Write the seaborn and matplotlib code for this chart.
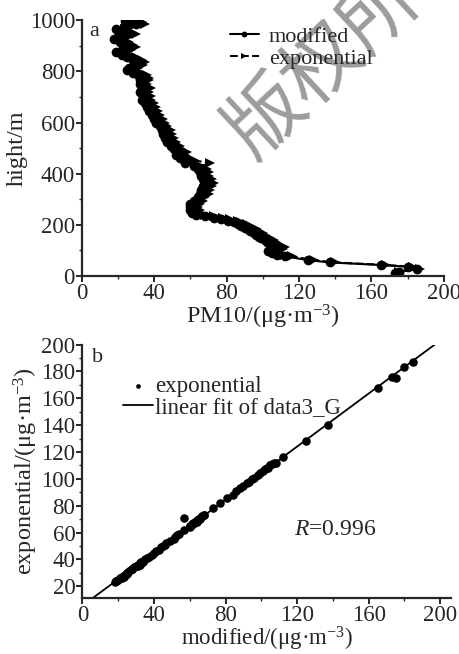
import matplotlib
matplotlib.use('Agg')
import matplotlib.pyplot as plt
import numpy as np
import pandas as pd
import seaborn as sns
from matplotlib.ticker import MultipleLocator

# DATA
# height of each sample (m), top of the profile first
heights = [998, 992, 985, 975, 965, 955, 945, 935, 925, 915, 905, 895, 885, 875, 865,
           855, 845, 835, 825, 815, 805, 795, 785, 775, 765, 750, 735, 720, 705, 690,
           675, 660, 645, 630, 615, 600, 585, 570, 555, 540, 525, 510, 498, 486, 474,
           462, 452, 442, 430, 418, 405, 392, 378, 364, 350, 336, 322, 308, 295, 282,
           270, 258, 247, 240, 234, 228, 222, 216, 210, 203, 196, 189, 182, 175, 168,
           161, 154, 147, 140, 133, 126, 119, 112, 105, 98, 91, 84, 77, 62, 53,
           43, 36, 27, 17, 10]
# PM10, modified method
modified = [24, 28, 30, 23, 19, 22, 25, 20, 18, 21, 24, 25, 22, 19, 22,
            25, 28, 31, 29, 26, 25, 28, 31, 33, 32, 32, 33, 32, 34, 33,
            35, 36, 37, 39, 40, 41, 43, 44, 45, 46, 47, 49, 51, 53, 52,
            54, 57, 57, 62, 64, 65, 66, 67, 68, 67, 66, 65, 64, 62, 60,
            60, 60, 61, 63, 68, 73, 77, 81, 84, 86, 88, 90, 92, 93, 95,
            96, 98, 99, 101, 102, 104, 105, 107, 106, 103, 105, 108, 112, 125, 137,
            165, 180, 185, 175, 173]
# PM10, exponential method
exponential = [28, 33, 35, 27, 24, 27, 30, 25, 23, 26, 28, 30, 27, 24, 26,
               30, 33, 35, 34, 31, 29, 33, 36, 37, 37, 36, 38, 37, 38, 38,
               40, 41, 42, 43, 45, 46, 47, 49, 50, 51, 52, 54, 55, 58, 57,
               59, 62, 71, 66, 69, 70, 70, 72, 73, 72, 71, 70, 68, 67, 65,
               64, 65, 66, 68, 73, 78, 82, 86, 88, 91, 93, 95, 97, 98, 100,
               101, 103, 104, 106, 107, 108, 110, 112, 111, 108, 110, 112, 116, 128, 140,
               168, 183, 187, 175, 176]

r_value = '0.996'

# STYLE
sns.set_style('ticks')
plt.rcParams['font.family'] = ['Liberation Serif', 'DejaVu Serif']
plt.rcParams['mathtext.fontset'] = 'custom'
plt.rcParams['mathtext.rm'] = 'Liberation Serif'
plt.rcParams['mathtext.it'] = 'Liberation Serif:italic'
plt.rcParams['axes.linewidth'] = 1.6

df = pd.DataFrame({'hight': heights, 'modified': modified, 'exponential': exponential})

fig = plt.figure(figsize=(4.6, 6.54), dpi=100)
ax1 = fig.add_axes([0.178, 0.578, 0.787, 0.391])
ax2 = fig.add_axes([0.179, 0.086, 0.8015, 0.387])


def style_axis(ax):
    sns.despine(ax=ax)
    ax.tick_params(which='major', direction='out', length=4, width=1.4, labelsize=16.5, pad=1)
    ax.tick_params(which='minor', direction='out', length=2, width=1.0)


# panel a: vertical profiles
sns.lineplot(data=df, x='modified', y='hight', sort=False, estimator=None, ax=ax1,
             color='black', lw=1.5, marker='o', markersize=7, markeredgewidth=0,
             label='modified')
sns.lineplot(data=df, x='exponential', y='hight', sort=False, estimator=None, ax=ax1,
             color='black', lw=1.5, ls='--', marker='>', markersize=7, markeredgewidth=0,
             label='exponential')
ax1.set_xlim(0, 200)
ax1.set_ylim(0, 1000)
ax1.xaxis.set_major_locator(MultipleLocator(40))
ax1.xaxis.set_minor_locator(MultipleLocator(20))
ax1.yaxis.set_major_locator(MultipleLocator(200))
ax1.yaxis.set_minor_locator(MultipleLocator(100))
style_axis(ax1)
ax1.set_xlabel('PM10/(μg·m$^{-3}$)', fontsize=17.5, labelpad=-1)
ax1.set_ylabel('hight/m', fontsize=17.5, labelpad=1)
leg = ax1.legend(loc='upper left', bbox_to_anchor=(0.409, 0.975), frameon=False, fontsize=16,
                 handlelength=1.3, handletextpad=0.45, labelspacing=0.05, borderpad=0,
                 borderaxespad=0, markerscale=0.6)
leg.set_zorder(5)
ax1.text(0.02, 0.995, 'a', transform=ax1.transAxes, fontsize=16, va='top')

# panel b: exponential vs modified with linear fit
ax2.set_xlim(0, 206)
ax2.set_ylim(11.4, 200)
sns.scatterplot(data=df, x='modified', y='exponential', ax=ax2, color='black',
                s=38, linewidth=0, label='exponential')
sns.regplot(data=df, x='modified', y='exponential', ax=ax2, scatter=False, ci=None,
            truncate=False, color='black', line_kws={'lw': 1.3},
            label='linear fit of data3_G')
ax2.set_xlim(0, 206)
ax2.set_ylim(11.4, 200)
ax2.set_xticks([0, 40, 80, 120, 160, 200])
ax2.xaxis.set_minor_locator(MultipleLocator(20))
ax2.yaxis.set_major_locator(MultipleLocator(20))
ax2.yaxis.set_minor_locator(MultipleLocator(10))
style_axis(ax2)
ax2.set_xlabel('modified/(μg·m$^{-3}$)', fontsize=16.5, labelpad=-1)
ax2.set_ylabel('exponential/(μg·m$^{-3}$)', fontsize=17.5, labelpad=1)
ax2.legend(loc='upper left', bbox_to_anchor=(0.11, 0.875), frameon=False, fontsize=16.5,
           handlelength=1.3, handletextpad=0.1, labelspacing=0.0, borderpad=0,
           borderaxespad=0, markerscale=0.55)
ax2.text(0.025, 0.985, 'b', transform=ax2.transAxes, fontsize=16, va='top')
ax2.text(118, 62, f'$R$={r_value}', fontsize=17, va='center')

# watermark, kept under the legend text
ax1.text(0.518, 0.780, '版权所有', transform=fig.transFigure, fontsize=56, color='#9c9c9c',
         rotation=43, rotation_mode='anchor', ha='left', va='center', zorder=1.5,
         clip_on=False, family=['Noto Sans CJK SC', 'DejaVu Sans'])

fig.savefig('out.png', dpi=100)
